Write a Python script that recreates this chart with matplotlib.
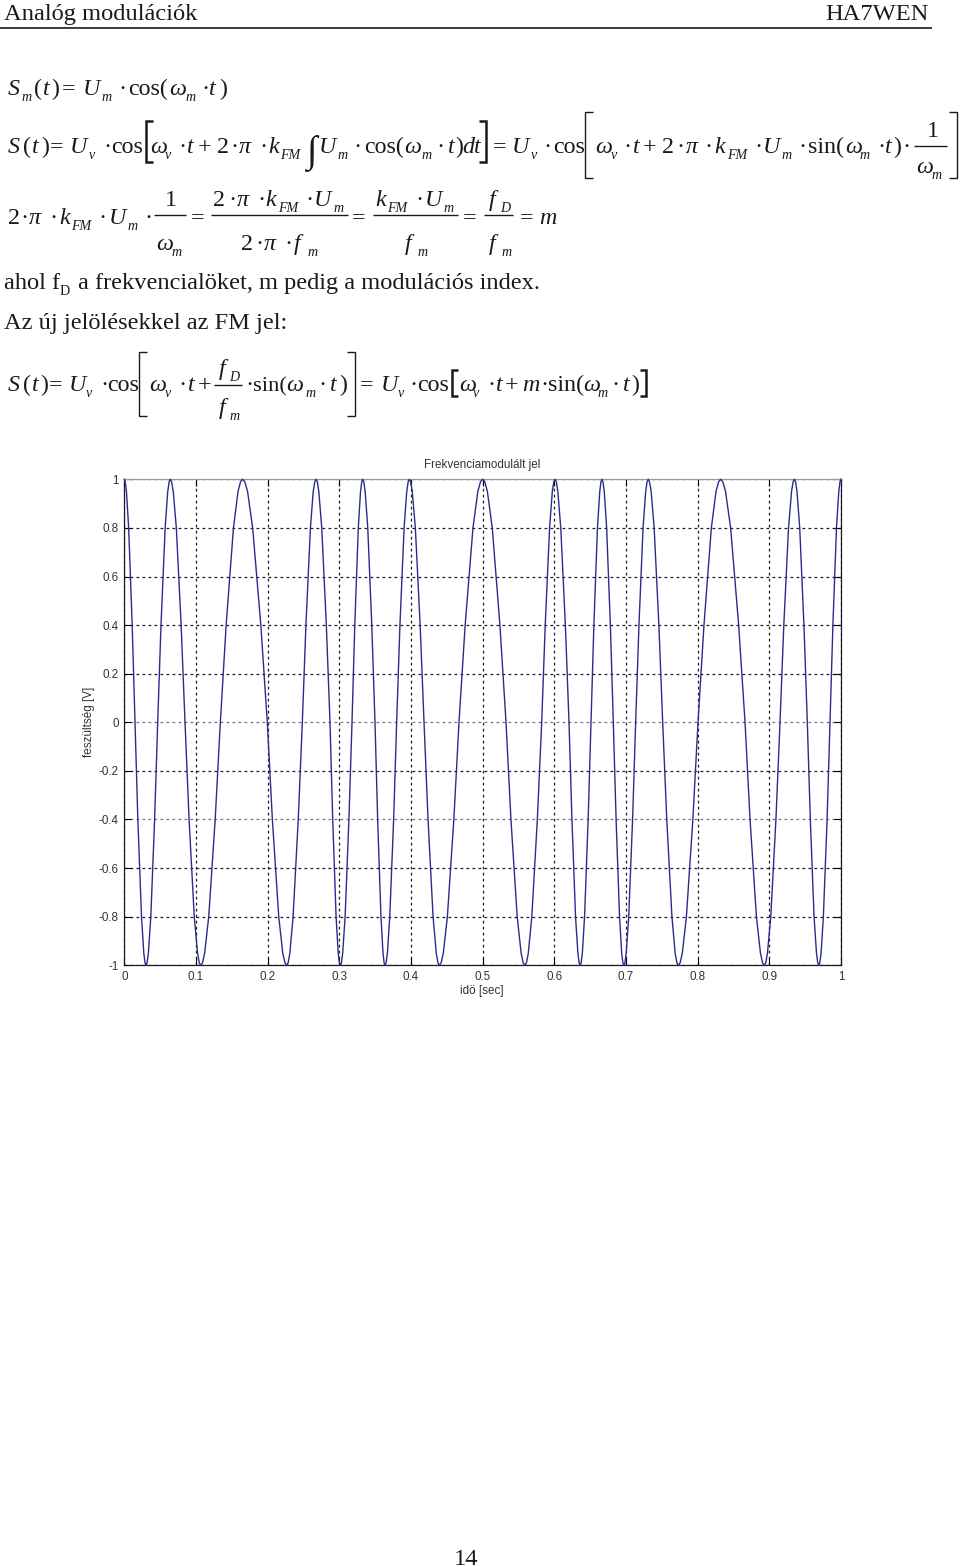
import matplotlib
matplotlib.use("Agg")
import matplotlib.pyplot as plt

# ---- chart data: times at which the curve passes each level
swing_times = [
    [.0013,.0030,.0061,.0110,.0149,.0189,.0240,.0272,.0289,.0303],
    [.0318,.0336,.0370,.0423,.0466,.0512,.0570,.0606,.0626,.0642],
    [.0660,.0683,.0726,.0793,.0847,.0904,.0976,.1022,.1046,.1066],
    [.1091,.1121,.1178,.1268,.1340,.1421,.1523,.1587,.1622,.1650],
    [.1681,.1720,.1791,.1905,.1995,.2066,.2155,.2211,.2242,.2266],
    [.2286,.2310,.2355,.2427,.2484,.2534,.2597,.2636,.2658,.2675],
    [.2693,.2714,.2755,.2819,.2870,.2908,.2955,.2985,.3001,.3014],
    [.3029,.3047,.3081,.3134,.3177,.3216,.3265,.3296,.3313,.3326],
    [.3341,.3361,.3397,.3453,.3498,.3535,.3581,.3610,.3625,.3638],
    [.3653,.3671,.3704,.3758,.3800,.3846,.3904,.3941,.3961,.3977],
    [.3995,.4018,.4061,.4128,.4182,.4238,.4308,.4353,.4377,.4396],
    [.4421,.4451,.4508,.4598,.4670,.4756,.4865,.4933,.4970,.5000],
    [.5029,.5066,.5134,.5241,.5326,.5395,.5482,.5537,.5566,.5590],
    [.5611,.5637,.5686,.5763,.5824,.5873,.5934,.5972,.5993,.6010],
    [.6028,.6049,.6090,.6154,.6205,.6246,.6296,.6329,.6346,.6360],
    [.6374,.6391,.6422,.6472,.6512,.6552,.6602,.6634,.6651,.6665],
    [.6679,.6697,.6730,.6782,.6823,.6862,.6910,.6940,.6957,.6970],
    [.6985,.7003,.7038,.7092,.7135,.7181,.7238,.7275,.7294,.7310],
    [.7328,.7351,.7393,.7459,.7512,.7569,.7641,.7686,.7710,.7730],
    [.7755,.7786,.7843,.7933,.8005,.8088,.8191,.8256,.8292,.8320],
    [.8351,.8389,.8460,.8572,.8661,.8731,.8820,.8876,.8906,.8930],
    [.8950,.8974,.9020,.9092,.9149,.9202,.9268,.9310,.9332,.9350],
    [.9366,.9386,.9424,.9483,.9530,.9572,.9624,.9658,.9676,.9690],
    [.9704,.9722,.9754,.9806,.9847,.9887,.9937,.9969,.9986,1.000],
]
swing_levels = [.99, .95, .8, .4, 0, -.4, -.8, -.95, -.99, -1]
x_ticks = [0, .1, .2, .3, .4, .5, .6, .7, .8, .9, 1]
x_tick_labels = ['0', '0.1', '0.2', '0.3', '0.4', '0.5', '0.6', '0.7', '0.8', '0.9', '1']
y_ticks = [-1, -.8, -.6, -.4, -.2, 0, .2, .4, .6, .8, 1]
y_tick_labels = ['-1', '-0.8', '-0.6', '-0.4', '-0.2', '0', '0.2', '0.4', '0.6', '0.8', '1']
chart_title = 'Frekvenciamodulált jel'
x_title = 'idö [sec]'
y_title = 'feszültség [V]'

t_values = [0.0]
v_values = [1.0]
sign = 1
for row in swing_times:
    t_values.extend(row)
    v_values.extend(sign * lv for lv in swing_levels)
    sign = -sign

W, H = 960, 1567
fig = plt.figure(figsize=(W / 100, H / 100), dpi=100, facecolor='white')

# ---- page overlay in pixel coordinates
pg = fig.add_axes([0, 0, 1, 1], zorder=5)
pg.set_xlim(0, W); pg.set_ylim(H, 0); pg.axis('off')
SERIF = 'Liberation Serif'
INK = '#1a1a1a'

def px(size):
    return size * 72 / 100

def put(x, y, s, size=24, it=False, ha='left'):
    pg.text(x, y, s, fontsize=px(size), family=SERIF, style='italic' if it else 'normal',
            color=INK, ha=ha, va='baseline')

def seq(items, base, size=24, sub=14, drop=6):
    # items: (x, text, kind) kind: r roman, i italic, s italic subscript
    for x, s, k in items:
        if k == 's':
            put(x, base + drop, s, sub, True)
        else:
            put(x, base, s, size, k == 'i')

def bar(x0, x1, y, lw=1.0):
    pg.plot([x0, x1], [y, y], color=INK, lw=lw, solid_capstyle='butt')

def bracket(x, y0, y1, w, side, lw=1.0):
    xe = x + w if side == 'l' else x - w
    pg.plot([xe, x, x, xe], [y0, y0, y1, y1], color=INK, lw=lw, solid_joinstyle='miter', solid_capstyle='butt')

# header
put(4, 20, 'Analóg modulációk', 24.5)
put(929, 20, 'HA7WEN', 24.5, ha='right')
bar(0, 932, 28, 1.2)
put(466, 1565, '14', 24.5, ha='center')

# equation 1
seq([(8,'S','i'),(22,'m','s'),(34,'(','r'),(43,'t','i'),(51,')','r'),(62,'=','r'),(83,'U','i'),(102,'m','s'),
     (118,'·','r'),(128,'cos(','r'),(169,'ω','i'),(185,'m','s'),(201,'·','r'),(209,'t','i'),(219,')','r')], 95)

# equation 2
seq([(8,'S','i'),(23,'(','r'),(32,'t','i'),(41,')','r'),(50,'=','r'),(70,'U','i'),(89,'v','s'),(103,'·','r'),
     (111,'cos','r'),(150,'ω','i'),(165,'v','s'),(178,'·','r'),(187,'t','i'),(198,'+','r'),(217,'2','r'),
     (230,'·','r'),(239,'π','i'),(259,'·','r'),(268,'k','i'),(280,'FM','s'),(319,'U','i'),(337,'m','s'),
     (353,'·','r'),(364,'cos(','r'),(404,'ω','i'),(421,'m','s'),(436,'·','r'),(448,'t','i'),(455,')','r'),
     (462,'dt','i'),(493,'=','r'),(512,'U','i'),(531,'v','s'),(543,'·','r'),(553,'cos','r'),
     (595,'ω','i'),(611,'v','s'),(623,'·','r'),(633,'t','i'),(643,'+','r'),(662,'2','r'),(676,'·','r'),
     (686,'π','i'),(704,'·','r'),(714,'k','i'),(727,'FM','s'),(754,'·','r'),(763,'U','i'),(782,'m','s'),
     (798,'·','r'),(808,'sin(','r'),(845,'ω','i'),(860,'m','s'),(877,'·','r'),(885,'t','i'),(893,')','r'),
     (902,'·','r')], 153)
bracket(146, 121, 162, 7, 'l', 1.8)
bracket(486, 121, 162, 7, 'r', 1.8)
put(307, 162, '∫', 38, True)
bracket(585, 112, 178, 8, 'l')
bracket(957, 112, 178, 8, 'r')
put(927, 137, '1', 24)
bar(914, 947, 146)
seq([(916,'ω','i'),(932,'m','s')], 173)

# equation 3
seq([(8,'2','r'),(20,'·','r'),(29,'π','i'),(49,'·','r'),(59,'k','i'),(71,'FM','s'),(98,'·','r'),(109,'U','i'),
     (128,'m','s'),(144,'·','r'),(191,'=','r'),(352,'=','r'),(463,'=','r'),(520,'=','r'),(539,'m','i')], 224)
put(165, 206, '1'); bar(154, 186, 215); seq([(156,'ω','i'),(172,'m','s')], 250)
seq([(213,'2','r'),(228,'·','r'),(237,'π','i'),(257,'·','r'),(265,'k','i'),(278,'FM','s'),(305,'·','r'),(314,'U','i'),(333,'m','s')], 206)
bar(211, 348, 215)
seq([(241,'2','r'),(255,'·','r'),(264,'π','i'),(284,'·','r'),(294,'f','i'),(307,'m','s')], 250)
seq([(375,'k','i'),(387,'FM','s'),(415,'·','r'),(425,'U','i'),(443,'m','s')], 206)
bar(373, 458, 215)
seq([(405,'f','i'),(418,'m','s')], 250)
seq([(489,'f','i'),(500,'D','s')], 206)
bar(484, 513, 215)
seq([(489,'f','i'),(502,'m','s')], 250)

# body text
put(4, 289, 'ahol f', 24.4); put(60, 295, 'D', 14)
put(78, 289, 'a frekvencialöket, m pedig a modulációs index.', 24.4)
put(4, 329, 'Az új jelölésekkel az FM jel:', 24.4)

# equation 4
seq([(8,'S','i'),(23,'(','r'),(32,'t','i'),(40,')','r'),(49,'=','r'),(69,'U','i'),(86,'v','s'),(100,'·','r'),
     (107,'cos','r'),(149,'ω','i'),(165,'v','s'),(178,'·','r'),(188,'t','i'),(198,'+','r'),(245,'·','r'),
     (286,'ω','i'),(305,'m','s'),(318,'·','r'),(330,'t','i'),(339,')','r'),(360,'=','r'),
     (381,'U','i'),(398,'v','s'),(409,'·','r'),(417,'cos','r'),(459,'ω','i'),(473,'v','s'),(487,'·','r'),
     (496,'t','i'),(505,'+','r'),(522,'m','i'),(540,'·','r'),(548,'sin(','r'),(583,'ω','i'),(598,'m','s'),
     (611,'·','r'),(623,'t','i'),(631,')','r')], 391)
put(253, 391, 'sin(', 22.5)
seq([(219,'f','i'),(229,'D','s')], 375)
bar(214, 242, 385)
seq([(219,'f','i'),(229,'m','s')], 414)
bracket(139, 352, 416, 8, 'l')
bracket(355, 352, 416, 8, 'r')
bracket(452, 370, 396, 6, 'l', 1.8)
bracket(646, 370, 396, 6, 'r', 1.8)

# ---- chart
left, right, top, bottom = 124.3, 841, 479.3, 965.3
ax = fig.add_axes([left / W, 1 - bottom / H, (right - left) / W, (bottom - top) / H], zorder=2)
ax.plot(t_values, v_values, color='#2b2b8e', lw=1.0, zorder=3, clip_on=False)
ax.set_xlim(0, 1); ax.set_ylim(-1, 1)
ax.set_xticks(x_ticks); ax.set_xticklabels(x_tick_labels)
ax.set_yticks(y_ticks); ax.set_yticklabels(y_tick_labels)
ax.tick_params(direction='in', length=5, width=0.8, top=True, right=True, labelsize=8.4,
               labelcolor='#333333', pad=4)
for lab in ax.get_xticklabels() + ax.get_yticklabels():
    lab.set_family('Liberation Sans')
ax.grid(True, color='#1a1a1a', lw=0.9, ls=(0, (2.2, 2.6)), zorder=1)
for i in (3, 5):
    ax.get_ygridlines()[i].set_color('#777777')
for s in ax.spines.values():
    s.set_color('#1a1a1a'); s.set_linewidth(0.9)
ax.spines['top'].set_color('#999999')
ax.set_axisbelow(True)
fig.text(482 / W, 1 - 465 / H, chart_title, family='Liberation Sans', fontsize=8.4, color='#333333', ha='center', va='center')
fig.text(482 / W, 1 - 991 / H, x_title, family='Liberation Sans', fontsize=8.4, color='#333333', ha='center', va='center')
fig.text(89 / W, 1 - 722 / H, y_title, family='Liberation Sans', fontsize=8.4, color='#333333', ha='center', va='center', rotation=90)

fig.savefig('out.png', dpi=100, facecolor='white')
